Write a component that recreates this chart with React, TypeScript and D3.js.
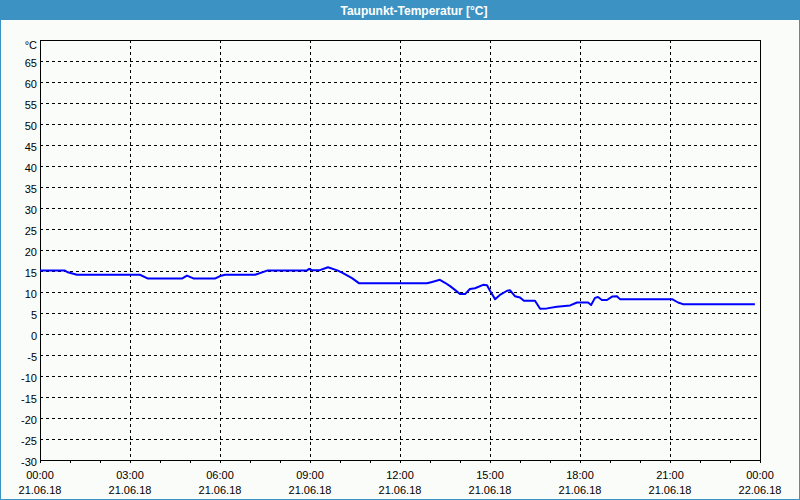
import React from "react";
import * as d3 from "d3";

const title = "Taupunkt-Temperatur [°C]";
const hours = [0, 0.83, 0.93, 1.23, 3.33, 3.6, 4.73, 4.9, 5.13, 5.83, 6.0, 6.17, 7.17, 7.57, 8.9, 8.97, 9.07, 9.33, 9.6, 9.93, 10.1, 10.4, 10.63, 12.9, 13.07, 13.33, 13.5, 13.67, 13.83, 14.0, 14.17, 14.33, 14.5, 14.77, 14.9, 15.0, 15.17, 15.33, 15.57, 15.67, 15.83, 16.0, 16.13, 16.5, 16.67, 16.9, 17.23, 17.67, 17.9, 18.27, 18.37, 18.5, 18.6, 18.73, 18.9, 19.07, 19.23, 19.33, 21.07, 21.27, 21.43, 23.83];
const values = [15.1, 15.1, 14.7, 14.1, 14.1, 13.2, 13.2, 13.9, 13.2, 13.2, 13.8, 14.1, 14.1, 15.1, 15.1, 15.5, 15.2, 15.2, 15.9, 15.1, 14.5, 13.3, 12.1, 12.1, 12.4, 12.9, 12.2, 11.4, 10.5, 9.5, 9.5, 10.7, 10.9, 11.7, 11.6, 10.3, 8.3, 9.3, 10.3, 10.4, 9.0, 8.7, 7.9, 7.9, 6.0, 6.1, 6.5, 6.8, 7.5, 7.5, 6.9, 8.6, 8.8, 8.1, 8.1, 8.9, 9.0, 8.3, 8.3, 7.5, 7.1, 7.1];
const yTicks = [-30, -25, -20, -15, -10, -5, 0, 5, 10, 15, 20, 25, 30, 35, 40, 45, 50, 55, 60, 65];
const xTickHours = [0, 3, 6, 9, 12, 15, 18, 21, 24];
const xTimeLabels = ["00:00", "03:00", "06:00", "09:00", "12:00", "15:00", "18:00", "21:00", "00:00"];
const xDateLabels = ["21.06.18", "21.06.18", "21.06.18", "21.06.18", "21.06.18", "21.06.18", "21.06.18", "21.06.18", "22.06.18"];
const unitLabel = "°C";

export default function App() {
  const W = 800, H = 500;
  const L = 40, R = 760, T = 40, B = 460;
  const x = d3.scaleLinear().domain([0, 24]).range([L, R]);
  const y = d3.scaleLinear().domain([-30, 70]).range([B, T]);
  const line = d3.line<number>().x((_, i) => x(hours[i])).y((v) => y(v));
  const font = "'Liberation Sans', Arial, sans-serif";
  const minor = d3.range(0, 25);
  return (
    <svg width={W} height={H} style={{ position: "absolute", left: 0, top: 0 }} fontFamily={font}>
      <rect x={0} y={0} width={W} height={H} fill="#fafcfa" />
      <rect x={0.5} y={0.5} width={W - 1} height={H - 1} fill="none" stroke="#3c92c2" />
      <rect x={0} y={0} width={W} height={20} fill="#3c92c2" />
      <text x={414} y={11} fill="#fff" fontWeight="bold" fontSize={12} textAnchor="middle" dominantBaseline="central">{title}</text>
      {yTicks.filter((t) => t > -30).map((t) => (
        <line key={"gy" + t} x1={L} x2={R} y1={Math.round(y(t)) + 0.5} y2={Math.round(y(t)) + 0.5} stroke="#000" strokeDasharray="3,3" />
      ))}
      {xTickHours.filter((h) => h > 0 && h < 24).map((h) => (
        <line key={"gx" + h} x1={Math.round(x(h)) + 0.5} x2={Math.round(x(h)) + 0.5} y1={T} y2={B} stroke="#000" strokeDasharray="3,3" />
      ))}
      <rect x={L + 0.5} y={T + 0.5} width={R - L} height={B - T} fill="none" stroke="#000" />
      {minor.map((h) => (
        <line key={"mt" + h} x1={Math.round(x(h)) + 0.5} x2={Math.round(x(h)) + 0.5} y1={B} y2={B + 3} stroke="#000" />
      ))}
      {yTicks.map((t) => (
        <text key={"yl" + t} x={37} y={y(t) + 1.5} fontSize={11} textAnchor="end" dominantBaseline="central" fill="#000">{t}</text>
      ))}
      <text x={37} y={45} fontSize={11} textAnchor="end" dominantBaseline="central" fill="#000">{unitLabel}</text>
      {xTickHours.map((h, i) => (
        <g key={"xl" + i}>
          <text x={x(h)} y={475} fontSize={11} textAnchor="middle" dominantBaseline="central" fill="#000">{xTimeLabels[i]}</text>
          <text x={x(h)} y={490} fontSize={11} textAnchor="middle" dominantBaseline="central" fill="#000">{xDateLabels[i]}</text>
        </g>
      ))}
      <path d={line(values) || ""} fill="none" stroke="#0000ff" strokeWidth={2} strokeLinejoin="round" />
    </svg>
  );
}
